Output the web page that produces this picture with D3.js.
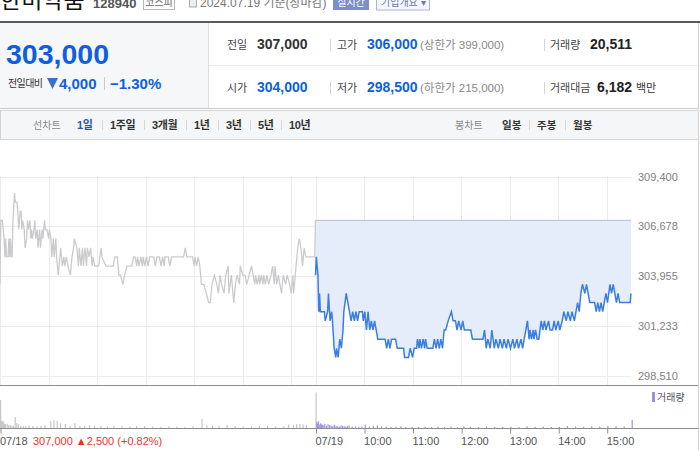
<!DOCTYPE html>
<html><head><meta charset="utf-8">
<script src="https://cdn.jsdelivr.net/npm/d3@7"></script>
<style>
html,body{margin:0;padding:0;background:#fff;}
svg{display:block;font-family:"Liberation Sans","Noto Sans CJK KR",sans-serif;}
</style></head>
<body><svg id="c" width="700" height="450"></svg>
<script>
// ---------- data ----------
const stockName = "한미약품";
const stockCode = "128940";
const market = "코스피";
const asOf = "2024.07.19 기준(장마감)";
const currentPrice = 303000;
const change = 4000;
const changePct = "−1.30%";
const prevClose = 307000;
const openPrice = 304000;
const highPrice = 306000;
const lowPrice = 298500;
const upperLimit = 399000;
const lowerLimit = 215000;
const volumeTotal = "20,511";
const tradeValue = "6,182";
const periodTabs = ["1일","1주일","3개월","1년","3년","5년","10년"];
const candleTabs = ["일봉","주봉","월봉"];

const yTicks = [298510, 301233, 303955, 306678, 309400];
const xTickIdx = [0, 390, 450, 510, 570, 630, 690, 750];
const xTickLabels = ["07/18","07/19","10:00","11:00","12:00","13:00","14:00","15:00"];
const gridIdx = [0,60,120,180,240,300,360,390,450,510,570,630,690,750];
const prevDayNote = "307,000 ▲2,500 (+0.82%)";

// 07/18 minute (from 09:00) and price
const prevMinutes = [0,1,3,5,6,7,8,10,11,12,13,14,15,16,18,19,21,22,23,25,26,27,28,30,31,33,34,35,37,38,39,40,42,43,44,46,47,49,50,52,53,55,56,58,60,61,63,64,66,67,69,70,72,74,75,77,79,80,82,84,87,89,91,92,95,97,98,100,102,103,105,107,108,110,112,114,115,117,119,122,125,126,131,140,142,145,147,149,152,154,157,163,165,167,169,170,172,174,176,177,179,181,183,185,190,192,194,197,199,201,203,204,208,210,212,227,229,231,238,240,241,243,245,247,249,252,255,258,260,262,265,268,270,272,274,277,279,282,283,286,288,289,291,293,296,297,300,303,305,308,311,313,315,316,318,320,321,323,325,326,328,330,332,335,337,339,340,342,344,346,348,350,353,355,358,360,362,363,366,368,370,372,374,376,378,389,390];
const prevPrices = [303500,307000,307000,306000,305000,306000,305000,305000,306000,305000,306000,305000,305000,307000,308500,308000,308000,307500,306500,307500,307500,306500,307000,306500,305500,306000,307000,306500,307000,306000,306500,306000,306500,307000,306000,306500,305500,306500,305500,306500,306000,307000,306500,306500,306000,306500,306000,305000,306000,305000,306000,305000,304000,305000,305500,304500,305000,304500,305000,304500,304000,305000,305500,306000,305500,304500,305500,304500,305500,304500,305500,304500,305500,305000,305500,304500,305000,304500,304500,304500,305500,305000,304500,304500,305000,305000,304000,304000,303500,304000,304500,304500,305000,305000,304500,305000,304500,305000,304500,305000,304500,305000,304500,305000,305000,304500,305000,305000,304500,305000,304500,305000,305000,304500,305000,305000,305500,305000,305000,304500,305000,304500,305000,304500,303500,303500,303000,302500,302500,303500,304000,303500,303000,304000,303500,303000,304000,304500,303000,304000,303000,302500,303500,304000,303500,304500,304000,304000,303500,304000,304500,304000,303500,304000,303500,304000,303500,304000,303500,304000,303500,304000,303500,304000,304500,303500,304500,303500,304000,303500,303000,304000,303500,304000,303500,303000,304000,303000,304500,305500,306000,305500,304500,305500,305000,305000,307000];

// 07/19 minute (from 09:00) and price
const todayMinutes = [0,1,3,4,5,6,11,12,15,16,18,20,21,23,25,26,28,30,32,34,35,38,40,42,44,46,48,50,52,54,58,59,61,63,65,67,69,71,73,75,77,86,88,90,92,94,99,101,109,110,115,117,120,122,125,126,128,129,131,133,135,136,138,145,147,149,151,153,155,157,159,161,164,168,170,173,175,177,180,182,184,192,194,207,209,211,213,216,218,221,223,226,228,231,233,236,238,241,244,246,249,251,254,256,258,260,262,264,265,267,269,270,272,274,276,279,281,283,285,288,290,293,295,297,300,302,305,307,310,312,315,317,320,322,324,326,328,330,333,335,337,339,345,347,349,351,353,355,357,359,361,364,366,368,370,372,374,376,389,390];
const todayPrices = [304000,305000,304000,302000,303000,302000,302000,301500,302000,303000,301500,302000,301500,300000,299500,300000,299500,300500,300000,301000,302000,303000,302500,302000,301500,302000,301500,302000,301500,302000,302000,301500,302000,301000,302000,301000,301500,301000,301500,301000,300500,300500,300000,300500,300000,300500,300500,300000,300000,299500,299500,300000,299500,300000,300000,300500,300000,300500,300000,300500,300000,300500,300000,300000,300500,300000,300500,300000,300500,300000,301000,301000,301500,302000,301500,301500,301000,301500,301000,301500,301000,301000,300500,300500,301000,300000,300500,300000,301000,300000,300500,300000,300500,300000,300500,300000,300500,300000,300500,300000,300500,300000,300500,300000,300500,301000,301500,300500,301000,300500,301000,300500,301000,300500,300500,301500,301000,301500,301000,301500,301000,301000,301500,301000,301500,301000,301500,302000,301500,302000,301500,302000,301500,302000,302500,302000,303000,303500,303000,303500,303000,302500,302500,302000,302500,302000,302500,302000,302500,303000,302500,303500,303000,303500,303000,302500,303000,302500,302500,303000];

// volume (shares) per minute bar
const prevVolMinutes = [0,1,2,3,4,5,6,8,10,12,14,16,18,20,22,25,28,31,35,40,45,50,55,62,66,70,74,80,86,92,98,104,110,116,124,132,140,150,160,168,178,188,198,208,218,228,238,249,255,262,270,280,290,300,310,320,330,340,350,356,362,366,370,374,378,390];
const prevVolumes = [1170,290,250,300,200,170,150,170,120,130,100,90,460,200,150,90,80,70,100,90,70,90,120,290,330,300,200,170,80,210,90,80,120,100,90,60,80,70,60,90,80,60,50,70,60,50,80,380,120,90,100,130,80,60,70,80,90,60,70,150,130,160,170,150,120,1480];
const todayVolMinutes = [0,1,2,3,4,5,6,7,8,10,12,14,16,18,20,22,24,26,28,30,32,34,36,38,40,44,48,52,56,60,65,70,75,80,86,92,98,104,110,118,126,134,142,150,158,166,174,182,190,200,210,220,230,240,250,260,270,280,290,300,310,320,330,340,350,360,370,380,390];
const todayVolumes = [250,180,290,150,120,200,160,130,110,180,90,150,120,100,80,140,90,70,60,110,90,70,60,80,100,60,70,50,60,140,60,90,110,70,60,50,50,70,40,50,40,60,40,50,40,60,40,70,50,40,60,40,50,60,40,70,50,60,40,50,80,60,50,70,60,90,80,60,340];

// ---------- drawing ----------
const svg = d3.select("#c");
const fmt = d3.format(",");
const BLUE = "#0d5fdf";

// top (cut-off) title row
svg.append("text").attr("x",0).attr("y",8).attr("font-size",23).attr("fill","#111").text(stockName);
svg.append("text").attr("x",93).attr("y",8).attr("font-size",13).attr("font-weight","bold").attr("fill","#555").text(stockCode);
svg.append("rect").attr("x",143.5).attr("y",-7).attr("width",31).attr("height",16.5).attr("fill","#fff").attr("stroke","#b9b9b9");
svg.append("text").attr("x",159).attr("y",6).attr("text-anchor","middle").attr("font-size",10).attr("fill","#666").text(market);
svg.append("rect").attr("x",189.5).attr("y",-3).attr("width",7).attr("height",10).attr("fill","#eee").attr("stroke","#aaa");
svg.append("text").attr("x",200).attr("y",7).attr("font-size",12).attr("fill","#777").text(asOf);
svg.append("rect").attr("x",333).attr("y",-7).attr("width",36).attr("height",17).attr("fill","#7d8fc8");
svg.append("text").attr("x",351).attr("y",6).attr("text-anchor","middle").attr("font-size",10).attr("fill","#fff").text("실시간");
svg.append("rect").attr("x",376.5).attr("y",-7).attr("width",53).attr("height",17).attr("fill","#f5f7fc").attr("stroke","#aab6d8");
svg.append("text").attr("x",381).attr("y",6).attr("font-size",10).attr("fill","#6b7aa6").text("기업개요 ▾");

// summary panel
svg.append("rect").attr("x",0).attr("y",23).attr("width",208).attr("height",85).attr("fill","#f6f7f9");
svg.append("line").attr("x1",0).attr("x2",700).attr("y1",22).attr("y2",22).attr("stroke","#5a5a5a").attr("stroke-width",2);
svg.append("line").attr("x1",208.5).attr("x2",208.5).attr("y1",23).attr("y2",108).attr("stroke","#dedede");
svg.append("line").attr("x1",209).attr("x2",698).attr("y1",65.5).attr("y2",65.5).attr("stroke","#ebebeb");
svg.append("line").attr("x1",698.5).attr("x2",698.5).attr("y1",23).attr("y2",108).attr("stroke","#cfcfcf");
svg.append("line").attr("x1",0).attr("x2",699).attr("y1",108.5).attr("y2",108.5).attr("stroke","#c9c9c9");

svg.append("text").attr("x",6).attr("y",64).attr("font-size",28.5).attr("font-weight","bold").attr("fill",BLUE).text(fmt(currentPrice));
svg.append("text").attr("x",8).attr("y",87).attr("font-size",10).attr("letter-spacing",-0.6).attr("fill","#333").text("전일대비");
svg.append("path").attr("d","M47,78 L58,78 L52.5,89 Z").attr("fill","#3a6fd0");
svg.append("text").attr("x",59).attr("y",89).attr("font-size",15).attr("font-weight","bold").attr("fill",BLUE).text(fmt(change));
svg.append("line").attr("x1",104.5).attr("x2",104.5).attr("y1",77).attr("y2",90).attr("stroke","#ccc");
svg.append("text").attr("x",110).attr("y",89).attr("font-size",15).attr("font-weight","bold").attr("fill",BLUE).text(changePct);

function cell(x,y,label,val,color,extra,lw){
  svg.append("text").attr("x",x).attr("y",y).attr("font-size",11).attr("fill","#444").text(label);
  svg.append("text").attr("x",x+lw).attr("y",y).attr("font-size",14).attr("font-weight","bold").attr("fill",color).text(val);
  if(extra){ svg.append("text").attr("x",x+lw+53).attr("y",y).attr("font-size",11.5).attr("fill","#888").text(extra); }
}
cell(227,49,"전일",fmt(prevClose),"#333",null,30);
cell(337,49,"고가",fmt(highPrice),BLUE,"(상한가 "+fmt(upperLimit)+")",30);
cell(227,92,"시가",fmt(openPrice),BLUE,null,30);
cell(337,92,"저가",fmt(lowPrice),BLUE,"(하한가 "+fmt(lowerLimit)+")",30);
svg.append("text").attr("x",550).attr("y",49).attr("font-size",11).attr("fill","#444").text("거래량");
svg.append("text").attr("x",590).attr("y",49).attr("font-size",14).attr("font-weight","bold").attr("fill","#222").text(volumeTotal);
svg.append("text").attr("x",550).attr("y",92).attr("font-size",11).attr("fill","#444").text("거래대금");
svg.append("text").attr("x",597).attr("y",92).attr("font-size",14).attr("font-weight","bold").attr("fill","#222").text(tradeValue);
svg.append("text").attr("x",636).attr("y",92).attr("font-size",11).attr("fill","#333").text("백만");
[[330.5,39],[544.5,39],[330.5,82],[544.5,82]].forEach(p=>{
  svg.append("line").attr("x1",p[0]).attr("x2",p[0]).attr("y1",p[1]).attr("y2",p[1]+12).attr("stroke","#d5d5d5");
});

// toolbar
svg.append("rect").attr("x",0.5).attr("y",110.5).attr("width",698).attr("height",29).attr("fill","#f5f6f8").attr("stroke","#d4d4d4");
svg.append("text").attr("x",33).attr("y",129).attr("font-size",10).attr("fill","#888").text("선차트");
const tabX = [77,110,152,194,226,258,289];
periodTabs.forEach((t,i)=>{
  svg.append("text").attr("x",tabX[i]).attr("y",129).attr("font-size",11).attr("font-weight","bold")
    .attr("letter-spacing",-0.4).attr("fill", i===0 ? "#2d55b5" : "#333").text(t);
  if(i>0) svg.append("line").attr("x1",tabX[i]-7.5).attr("x2",tabX[i]-7.5).attr("y1",120).attr("y2",130).attr("stroke","#d8d8d8");
});
svg.append("text").attr("x",455).attr("y",129).attr("font-size",10).attr("fill","#888").text("봉차트");
const ctX = [502,537,573];
candleTabs.forEach((t,i)=>{
  svg.append("text").attr("x",ctX[i]).attr("y",129).attr("font-size",10.5).attr("font-weight","bold").attr("fill","#333").text(t);
  if(i>0) svg.append("line").attr("x1",ctX[i]-7.5).attr("x2",ctX[i]-7.5).attr("y1",120).attr("y2",130).attr("stroke","#d8d8d8");
});
svg.append("line").attr("x1",698.5).attr("x2",698.5).attr("y1",140).attr("y2",450).attr("stroke","#cfcfcf");

// scales
const x = d3.scaleLinear().domain([0,780]).range([0,631]);
const y = d3.scaleLinear().domain([298510,309400]).range([375.5,176.5]);
const vy = d3.scaleLinear().domain([0,1500]).range([428,392]);

const prevData = prevMinutes.map((m,i)=>({i:m, p:prevPrices[i]}));
const todayData = todayMinutes.map((m,i)=>({i:390+m, p:todayPrices[i]}));

// grid
const g = svg.append("g");
g.selectAll(".hg").data(yTicks).join("line")
  .attr("x1",0).attr("x2",631).attr("y1",d=>Math.round(y(d))+0.5).attr("y2",d=>Math.round(y(d))+0.5)
  .attr("stroke","#ececec");
g.selectAll(".vg").data(gridIdx).join("line")
  .attr("x1",d=>Math.round(x(d))+0.5).attr("x2",d=>Math.round(x(d))+0.5).attr("y1",176).attr("y2",385)
  .attr("stroke","#ececec");

// y axis labels
const yAxis = d3.axisRight(y).tickValues(yTicks).tickFormat(fmt).tickSize(0).tickPadding(7);
const ya = svg.append("g").attr("transform","translate(631,0)").call(yAxis);
ya.select(".domain").remove();
ya.selectAll("text").attr("font-size",11).attr("fill","#808080").attr("font-family","Liberation Sans");

// today's area vs previous close
const area = d3.area().x(d=>x(d.i)).y0(y(prevClose)).y1(d=>y(d.p));
svg.append("path").datum(todayData).attr("d",area).attr("fill","#e4edf9");
svg.append("line").attr("x1",x(390)).attr("x2",x(780)).attr("y1",y(prevClose)).attr("y2",y(prevClose))
  .attr("stroke","#8a8a8a").attr("stroke-dasharray","1,1");

const line = d3.line().x(d=>x(d.i)).y(d=>y(d.p));
svg.append("path").datum(prevData).attr("d",line).attr("fill","none").attr("stroke","#cbcbce").attr("stroke-width",1.3);
svg.append("path").datum(todayData).attr("d",line).attr("fill","none").attr("stroke","#3b7ee0").attr("stroke-width",1.5);

// panel borders
svg.append("line").attr("x1",0).attr("x2",698).attr("y1",385.5).attr("y2",385.5).attr("stroke","#8c8c8c");

// volume
svg.selectAll(".pv").data(prevVolMinutes).join("rect")
  .attr("x",d=>x(d)).attr("width",1.2).attr("y",(d,i)=>vy(prevVolumes[i])).attr("height",(d,i)=>428-vy(prevVolumes[i]))
  .attr("fill","#c6c6c8");
svg.selectAll(".tv").data(todayVolMinutes).join("rect")
  .attr("x",d=>x(390+d)+0.6).attr("width",1.2).attr("y",(d,i)=>vy(todayVolumes[i])).attr("height",(d,i)=>428-vy(todayVolumes[i]))
  .attr("fill","#a195da");
svg.append("rect").attr("x",652).attr("y",392).attr("width",3).attr("height",10).attr("fill","#9d90d6");
svg.append("text").attr("x",657).attr("y",401).attr("font-size",10).attr("fill","#555").text("거래량");

// x axis
const xAxis = d3.axisBottom(x).tickValues(xTickIdx).tickFormat((d,i)=>xTickLabels[i]).tickSize(5).tickSizeOuter(0).tickPadding(4);
const xa = svg.append("g").attr("transform","translate(0.5,428.5)").call(xAxis);
xa.select(".domain").attr("d","M-0.5,0H698").attr("stroke","#8c8c8c");
xa.selectAll(".tick line").attr("stroke","#8c8c8c");
xa.selectAll("text").attr("text-anchor","start").attr("dx",-1).attr("font-size",11).attr("fill","#555").attr("font-family","Liberation Sans");
svg.append("text").attr("x",33).attr("y",445).attr("font-size",11).attr("fill","#e8352b").text(prevDayNote);
</script></body></html>
